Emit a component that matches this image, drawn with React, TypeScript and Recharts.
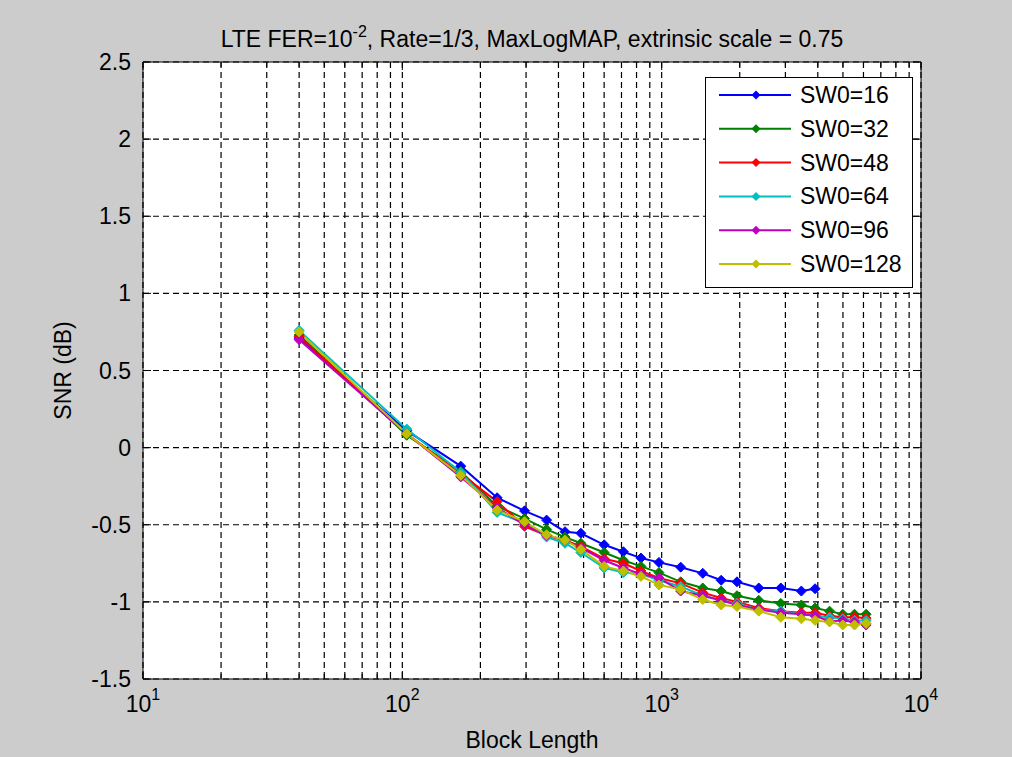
import React from "react";
import { CartesianGrid, Legend, Line, LineChart, XAxis, YAxis } from "recharts";

const FONT = "'Liberation Sans', Arial, Helvetica, sans-serif";

// block lengths shared by every curve (SW0=16 stops earlier)
const blockLengths = [40, 104, 168, 232, 296, 360, 424, 488, 600, 712, 832, 976, 1184, 1440, 1696, 1952, 2368, 2880, 3456, 3904, 4440, 4992, 5540, 6144];

const snrSw16 = [0.71, 0.11, -0.12, -0.325, -0.41, -0.47, -0.545, -0.555, -0.63, -0.675, -0.716, -0.744, -0.775, -0.815, -0.86, -0.87, -0.91, -0.91, -0.93, -0.915];
const snrSw32 = [0.73, 0.08, -0.155, -0.38, -0.46, -0.53, -0.58, -0.62, -0.68, -0.73, -0.77, -0.81, -0.87, -0.91, -0.93, -0.96, -0.99, -1.01, -1.02, -1.04, -1.06, -1.08, -1.08, -1.08];
const snrSw48 = [0.72, 0.09, -0.17, -0.35, -0.51, -0.57, -0.6, -0.64, -0.72, -0.75, -0.8, -0.845, -0.88, -0.94, -0.975, -1.0, -1.04, -1.06, -1.07, -1.07, -1.09, -1.1, -1.1, -1.105];
const snrSw64 = [0.76, 0.12, -0.16, -0.42, -0.49, -0.58, -0.62, -0.68, -0.78, -0.81, -0.82, -0.86, -0.9, -0.96, -0.99, -1.01, -1.05, -1.06, -1.08, -1.09, -1.1, -1.11, -1.12, -1.12];
const snrSw96 = [0.7, 0.09, -0.19, -0.39, -0.5, -0.57, -0.6, -0.65, -0.73, -0.78, -0.82, -0.845, -0.93, -0.96, -0.99, -1.02, -1.05, -1.07, -1.08, -1.09, -1.125, -1.12, -1.13, -1.15];
const snrSw128 = [0.75, 0.09, -0.18, -0.405, -0.48, -0.565, -0.6, -0.66, -0.77, -0.8, -0.835, -0.89, -0.92, -0.985, -1.02, -1.03, -1.06, -1.1, -1.11, -1.12, -1.13, -1.15, -1.15, -1.14];

const seriesNames = ["SW0=16", "SW0=32", "SW0=48", "SW0=64", "SW0=96", "SW0=128"];
const seriesColors = ["#0000ff", "#008000", "#ff0000", "#00bfbf", "#bf00bf", "#bfbf00"];
const seriesValues = [snrSw16, snrSw32, snrSw48, snrSw64, snrSw96, snrSw128];

const xTicks = [10, 20, 30, 40, 50, 60, 70, 80, 90, 100, 200, 300, 400, 500, 600, 700, 800, 900, 1000, 2000, 3000, 4000, 5000, 6000, 7000, 8000, 9000, 10000];
const yTicks = [-1.5, -1, -0.5, 0, 0.5, 1, 1.5, 2, 2.5];

const series = seriesNames.map((name, i) => ({
  name,
  color: seriesColors[i],
  data: seriesValues[i].map((y, j) => ({ x: blockLengths[j], y })),
}));

function isDecade(v: number) {
  const e = Math.log10(v);
  return Math.abs(e - Math.round(e)) < 1e-9;
}

function BottomTick(props: any) {
  const { x, y, payload } = props;
  const major = isDecade(payload.value);
  return (
    <g>
      <line x1={x} y1={y} x2={x} y2={y - (major ? 8 : 5)} stroke="#000" />
      {major && (
        <text x={x} y={y + 33} textAnchor="middle" fontSize={23} fill="#000" fontFamily={FONT}>
          10
          <tspan dy={-12} fontSize={16}>
            {Math.round(Math.log10(payload.value))}
          </tspan>
        </text>
      )}
    </g>
  );
}

function TopTick(props: any) {
  const { x, y, payload } = props;
  const major = isDecade(payload.value);
  return <line x1={x} y1={y} x2={x} y2={y + (major ? 8 : 5)} stroke="#000" />;
}

function LeftTick(props: any) {
  const { x, y, payload } = props;
  return (
    <g>
      <line x1={x} y1={y} x2={x + 8} y2={y} stroke="#000" />
      <text x={x - 12} y={y + 8} textAnchor="end" fontSize={23} fill="#000" fontFamily={FONT}>
        {String(payload.value)}
      </text>
    </g>
  );
}

function RightTick(props: any) {
  const { x, y } = props;
  return <line x1={x} y1={y} x2={x - 8} y2={y} stroke="#000" />;
}

const diamond = (color: string) => (props: any) => {
  const { cx, cy, index } = props;
  if (cx == null || cy == null) return <g key={index} />;
  const r = 5;
  return (
    <path
      key={index}
      d={`M${cx},${cy - r}L${cx + r},${cy}L${cx},${cy + r}L${cx - r},${cy}Z`}
      fill={color}
      stroke={color}
      strokeWidth={1}
    />
  );
};

function LegendBox() {
  return (
    <svg width={208} height={211} style={{ display: "block" }}>
      <rect x={0.5} y={0.5} width={207} height={210} fill="#fff" stroke="#000" />
      {series.map((s, i) => {
        const cy = 18 + i * 33.8;
        return (
          <g key={s.name}>
            <line x1={14} y1={cy} x2={86} y2={cy} stroke={s.color} strokeWidth={2} />
            <path d={`M51,${cy - 4.5}L55.5,${cy}L51,${cy + 4.5}L46.5,${cy}Z`} fill={s.color} />
            <text x={95} y={cy + 8} fontSize={23} fill="#000" fontFamily={FONT}>
              {s.name}
            </text>
          </g>
        );
      })}
    </svg>
  );
}

export default function App() {
  return (
    <div style={{ position: "absolute", left: 0, top: 0, width: 1012, height: 757, background: "#cccccc" }}>
      <LineChart width={1012} height={757} margin={{ top: 0, right: 0, bottom: 0, left: 0 }}>
        <CartesianGrid
          xAxisId="bottom"
          yAxisId="left"
          fill="#ffffff"
          stroke="#000"
          strokeWidth={1.2}
          strokeDasharray="6 4"
        />
        <XAxis
          xAxisId="bottom"
          dataKey="x"
          type="number"
          scale="log"
          domain={[10, 10000]}
          ticks={xTicks}
          allowDataOverflow
          height={78}
          tickSize={0}
          tickMargin={0}
          tickLine={false}
          interval={0}
          axisLine={{ stroke: "#000" }}
          tick={<BottomTick />}
          label={(p: any) => (
            <text
              x={p.viewBox.x + p.viewBox.width / 2}
              y={p.viewBox.y + 69}
              textAnchor="middle"
              fontSize={23}
              fill="#000"
              fontFamily={FONT}
            >
              Block Length
            </text>
          )}
        />
        <XAxis
          xAxisId="top"
          orientation="top"
          dataKey="x"
          type="number"
          scale="log"
          domain={[10, 10000]}
          ticks={xTicks}
          allowDataOverflow
          height={62}
          tickSize={0}
          tickMargin={0}
          tickLine={false}
          interval={0}
          axisLine={{ stroke: "#000" }}
          tick={<TopTick />}
          label={(p: any) => (
            <text
              x={p.viewBox.x + p.viewBox.width / 2}
              y={47}
              textAnchor="middle"
              fontSize={23}
              fill="#000"
              fontFamily={FONT}
            >
              LTE FER=10
              <tspan dy={-10} fontSize={16}>
                -2
              </tspan>
              <tspan dy={10}>, Rate=1/3, MaxLogMAP, extrinsic scale = 0.75</tspan>
            </text>
          )}
        />
        <YAxis
          yAxisId="left"
          type="number"
          domain={[-1.5, 2.5]}
          ticks={yTicks}
          allowDataOverflow
          width={143}
          tickSize={0}
          tickMargin={0}
          tickLine={false}
          interval={0}
          axisLine={{ stroke: "#000" }}
          tick={<LeftTick />}
          label={(p: any) => {
            const cx = 63;
            const cy = p.viewBox.y + p.viewBox.height / 2;
            return (
              <text
                x={cx}
                y={cy}
                transform={`rotate(-90, ${cx}, ${cy})`}
                textAnchor="middle"
                dominantBaseline="central"
                fontSize={23}
                fill="#000"
                fontFamily={FONT}
              >
                SNR (dB)
              </text>
            );
          }}
        />
        <YAxis
          yAxisId="right"
          orientation="right"
          type="number"
          domain={[-1.5, 2.5]}
          ticks={yTicks}
          allowDataOverflow
          width={91}
          tickSize={0}
          tickMargin={0}
          tickLine={false}
          interval={0}
          axisLine={{ stroke: "#000" }}
          tick={<RightTick />}
        />
        {series.map((s) => (
          <Line
            key={s.name}
            xAxisId="bottom"
            yAxisId="left"
            data={s.data}
            dataKey="y"
            name={s.name}
            type="linear"
            stroke={s.color}
            strokeWidth={2}
            dot={diamond(s.color)}
            activeDot={false}
            isAnimationActive={false}
          />
        ))}
        <Legend
          layout="vertical"
          align="center"
          verticalAlign="middle"
          wrapperStyle={{ left: 705, top: 77, width: 208, height: 211 }}
          content={() => <LegendBox />}
        />
      </LineChart>
    </div>
  );
}
